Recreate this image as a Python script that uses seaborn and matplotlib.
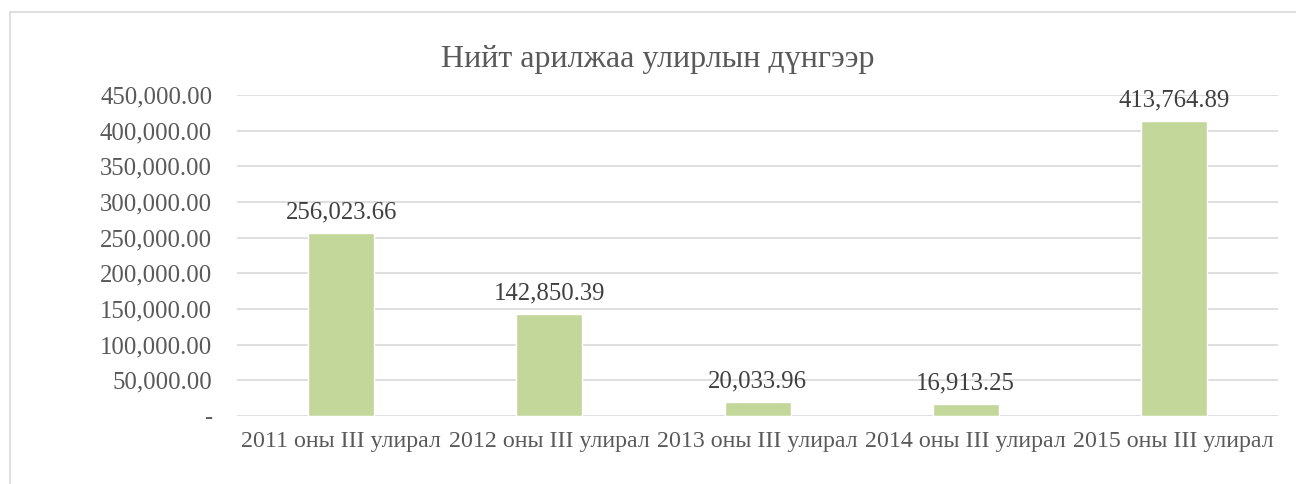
import matplotlib
matplotlib.use('Agg')
import pandas as pd
import matplotlib.pyplot as plt
import seaborn as sns
from matplotlib.patches import Rectangle
from matplotlib.ticker import FuncFormatter

# Өгөгдөл
quarters = ['2011 оны III улирал', '2012 оны III улирал', '2013 оны III улирал',
            '2014 оны III улирал', '2015 оны III улирал']
totals = [256023.66, 142850.39, 20033.96, 16913.25, 413764.89]
title = 'Нийт арилжаа улирлын дүнгээр'

df = pd.DataFrame({'quarter': quarters, 'total': totals})

sns.set_style('white')
plt.rcParams['font.family'] = ['Liberation Serif', 'DejaVu Serif']
text_color = '#595959'

fig = plt.figure(figsize=(12.96, 4.84), dpi=100)
ax = fig.add_axes([0.183, 0.1405, 0.803, 0.6632])

sns.barplot(x='quarter', y='total', data=df, color='#C4D79B', width=0.317,
            saturation=1, ax=ax)

ax.set_ylim(0, 450000)
ax.set_yticks(range(0, 450001, 50000))
ax.yaxis.set_major_formatter(FuncFormatter(lambda v, p: '-' if v == 0 else f'{v:,.2f}'))
ax.grid(axis='y', color='#D9D9D9', linewidth=1.2)
ax.set_axisbelow(True)
for s in ax.spines.values():
    s.set_visible(False)
ax.tick_params(axis='y', length=0, pad=18, labelsize=17.8, labelcolor=text_color)
ax.tick_params(axis='x', length=0, pad=11, labelsize=17.2, labelcolor=text_color)
ax.set_xlabel('')
ax.set_ylabel('')

# Нэмэлт шошго
ax.bar_label(ax.containers[0], labels=[f'{v:,.2f}' for v in totals],
             padding=7, fontsize=17.8, color='#404040')

fig.text(658 / 1296, 0.878, title, ha='center', va='center', fontsize=23, color=text_color)

# Хүрээ
fig.patches.append(Rectangle((10 / 1296, -0.05), 1.2, 1 - 12 / 484 + 0.05,
                             transform=fig.transFigure, fill=False,
                             edgecolor='#D9D9D9', linewidth=1.2))

fig.savefig('out.png', dpi=100)
